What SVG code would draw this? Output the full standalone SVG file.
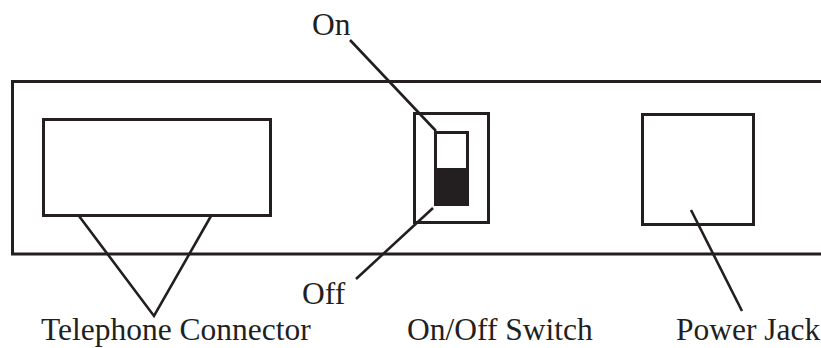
<svg xmlns="http://www.w3.org/2000/svg" width="821" height="348" viewBox="0 0 821 348">
<style>
.s{fill:none;stroke:#231f20;stroke-width:3}
.l{fill:none;stroke:#231f20;stroke-width:2.6}
text{font-family:"Liberation Serif","Times New Roman",serif;font-size:31.5px;fill:#231f20}
</style>
<rect width="821" height="348" fill="#fff"/>
<g id="panel"><path class="s" d="M830,81.5 H12.5 V254 H830"/></g>
<g id="telephone-connector"><rect class="s" x="43.5" y="119.5" width="227" height="96"/></g>
<g id="switch">
<rect class="s" x="414.5" y="113.5" width="74" height="109"/>
<rect class="s" x="435.5" y="132.5" width="32" height="72"/>
<rect x="435.5" y="168" width="32" height="36.5" fill="#231f20"/>
</g>
<g id="power-jack"><rect class="s" x="642.5" y="114.5" width="111" height="110"/></g>
<g id="connectors">
<path class="l" d="M79,216 L154,316 L211,216"/>
<path class="l" d="M350,40 L436,131"/>
<path class="l" d="M433,208 L356,279"/>
<path class="l" d="M691,210 L742,311"/>
</g>
<g id="labels">
<text x="41" y="340">Telephone Connector</text>
<text x="312" y="35">On</text>
<text x="302" y="304">Off</text>
<text x="407" y="340">On/Off Switch</text>
<text x="676" y="340">Power Jack</text>
</g>
</svg>
